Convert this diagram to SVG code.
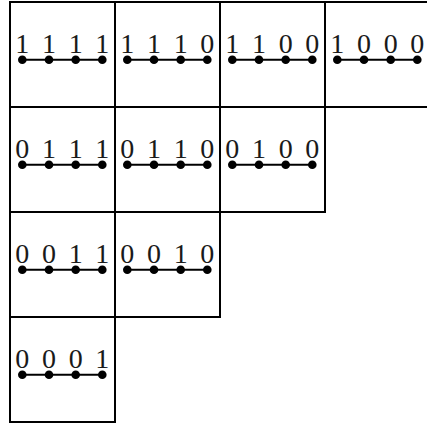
<svg xmlns="http://www.w3.org/2000/svg" width="427" height="423" viewBox="0 0 427 423">
<defs>
<style>
.cell{fill:none;stroke:#000;stroke-width:2}
.lbl{font-family:"Liberation Serif","DejaVu Serif",serif;font-size:28px;fill:#1a1a1a;text-anchor:middle}
.edge{stroke:#000;stroke-width:2}
.dot{fill:#000}
</style>
<g id="chain">
<line class="edge" x1="12.3" y1="57.7" x2="92.3" y2="57.7"/>
<circle class="dot" cx="12.3" cy="57.7" r="4.3"/>
<circle class="dot" cx="39" cy="57.7" r="4.3"/>
<circle class="dot" cx="65.7" cy="57.7" r="4.3"/>
<circle class="dot" cx="92.3" cy="57.7" r="4.3"/>
</g>
</defs>
<rect width="427" height="423" fill="#fff"/>
<g id="cells">
<g id="n1111" transform="translate(10,2)"><rect class="cell" width="105" height="105"/><use href="#chain"/><text class="lbl" y="50.8"><tspan x="12.3">1</tspan><tspan x="39">1</tspan><tspan x="65.7">1</tspan><tspan x="92.3">1</tspan></text></g>
<g id="n1110" transform="translate(115,2)"><rect class="cell" width="105" height="105"/><use href="#chain"/><text class="lbl" y="50.8"><tspan x="12.3">1</tspan><tspan x="39">1</tspan><tspan x="65.7">1</tspan><tspan x="92.3">0</tspan></text></g>
<g id="n1100" transform="translate(220,2)"><rect class="cell" width="105" height="105"/><use href="#chain"/><text class="lbl" y="50.8"><tspan x="12.3">1</tspan><tspan x="39">1</tspan><tspan x="65.7">0</tspan><tspan x="92.3">0</tspan></text></g>
<g id="n1000" transform="translate(325,2)"><rect class="cell" width="105" height="105"/><use href="#chain"/><text class="lbl" y="50.8"><tspan x="12.3">1</tspan><tspan x="39">0</tspan><tspan x="65.7">0</tspan><tspan x="92.3">0</tspan></text></g>
<g id="n0111" transform="translate(10,107)"><rect class="cell" width="105" height="105"/><use href="#chain"/><text class="lbl" y="50.8"><tspan x="12.3">0</tspan><tspan x="39">1</tspan><tspan x="65.7">1</tspan><tspan x="92.3">1</tspan></text></g>
<g id="n0110" transform="translate(115,107)"><rect class="cell" width="105" height="105"/><use href="#chain"/><text class="lbl" y="50.8"><tspan x="12.3">0</tspan><tspan x="39">1</tspan><tspan x="65.7">1</tspan><tspan x="92.3">0</tspan></text></g>
<g id="n0100" transform="translate(220,107)"><rect class="cell" width="105" height="105"/><use href="#chain"/><text class="lbl" y="50.8"><tspan x="12.3">0</tspan><tspan x="39">1</tspan><tspan x="65.7">0</tspan><tspan x="92.3">0</tspan></text></g>
<g id="n0011" transform="translate(10,212)"><rect class="cell" width="105" height="105"/><use href="#chain"/><text class="lbl" y="50.8"><tspan x="12.3">0</tspan><tspan x="39">0</tspan><tspan x="65.7">1</tspan><tspan x="92.3">1</tspan></text></g>
<g id="n0010" transform="translate(115,212)"><rect class="cell" width="105" height="105"/><use href="#chain"/><text class="lbl" y="50.8"><tspan x="12.3">0</tspan><tspan x="39">0</tspan><tspan x="65.7">1</tspan><tspan x="92.3">0</tspan></text></g>
<g id="n0001" transform="translate(10,317)"><rect class="cell" width="105" height="105"/><use href="#chain"/><text class="lbl" y="50.8"><tspan x="12.3">0</tspan><tspan x="39">0</tspan><tspan x="65.7">0</tspan><tspan x="92.3">1</tspan></text></g>
</g>
</svg>
